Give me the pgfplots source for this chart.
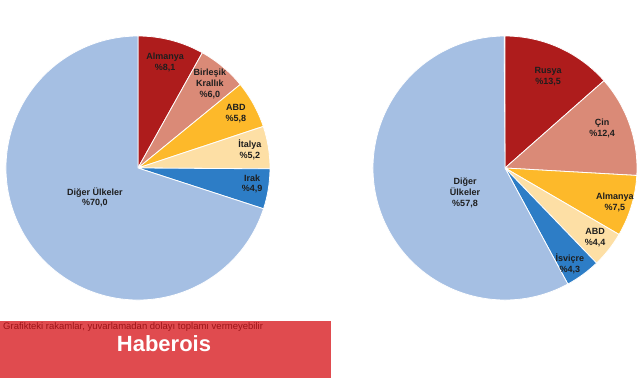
\documentclass[border=0pt]{standalone}
\usepackage{pgfplots}
\pgfplotsset{compat=1.18}
\usepackage{fontspec}
\setmainfont{Liberation Sans}
\definecolor{cA}{HTML}{AE1C1C}
\definecolor{cB}{HTML}{DA8A77}
\definecolor{cC}{HTML}{FDB92A}
\definecolor{cD}{HTML}{FDDFA5}
\definecolor{cE}{HTML}{2D7DC6}
\definecolor{cF}{HTML}{A5BFE3}
\definecolor{banner}{HTML}{E04B4F}
\definecolor{smalltxt}{HTML}{9E1418}
\definecolor{lbl}{HTML}{1E1E1E}
\newcommand{\R}{132pt}
\newcommand{\drawpie}[1]{%
  \pgfplotsextra{%
    \xdef\cur{90}%
    \foreach \v/\c in {#1} {%
      \pgfmathsetmacro\e{\cur-3.6*\v}%
      \fill[\c,draw=white,line width=0.8pt,line join=round] (axis cs:0,0) -- ++(\cur:\R) arc[start angle=\cur, end angle=\e, radius=\R] -- cycle;
      \xdef\cur{\e}%
    }%
  }%
}
\pgfplotsset{piestyle/.style={
  width=264pt, height=264pt, scale only axis,
  xmin=-1, xmax=1, ymin=-1, ymax=1,
  axis lines=none, clip=false, anchor=center,
}}
\tikzset{lab/.style={font=\fontsize{9}{10.8}\selectfont\bfseries, text=lbl, align=center, inner sep=0pt}}
\begin{document}
\begin{tikzpicture}[x=1pt,y=1pt]
\path[use as bounding box] (0,0) rectangle (641,380);
\fill[banner] (0,2) rectangle (331,59);
\node[anchor=base west, inner sep=0pt, text=smalltxt, font=\fontsize{9.5}{11}\selectfont] at (3,50) {Grafikteki rakamlar, yuvarlamadan dolayı toplamı vermeyebilir};
\node[anchor=base, inner sep=0pt, text=white, font=\fontsize{22}{24}\selectfont\bfseries] at (164,28) {Haberois};
% left pie
\begin{axis}[piestyle, at={(138pt,212pt)}]
\addplot[draw=none] coordinates {(0,0)};
\drawpie{8.1/cA, 6.0/cB, 5.8/cC, 5.2/cD, 4.9/cE, 70.0/cF}
\node[lab] at (axis cs:0.205,0.80) {Almanya\\\%8,1};
\node[lab] at (axis cs:0.545,0.636) {Birleşik\\Krallık\\\%6,0};
\node[lab] at (axis cs:0.742,0.413) {ABD\\\%5,8};
\node[lab] at (axis cs:0.848,0.14) {İtalya\\\%5,2};
\node[lab] at (axis cs:0.864,-0.121) {Irak\\\%4,9};
\node[lab] at (axis cs:-0.326,-0.223) {Diğer Ülkeler\\\%70,0};
\end{axis}
% right pie
\begin{axis}[piestyle, at={(505pt,212pt)}]
\addplot[draw=none] coordinates {(0,0)};
\drawpie{13.5/cA, 12.4/cB, 7.5/cC, 4.4/cD, 4.3/cE, 57.8/cF}
\node[lab] at (axis cs:0.326,0.693) {Rusya\\\%13,5};
\node[lab] at (axis cs:0.735,0.30) {Çin\\\%12,4};
\node[lab] at (axis cs:0.833,-0.261) {Almanya\\\%7,5};
\node[lab] at (axis cs:0.682,-0.53) {ABD\\\%4,4};
\node[lab] at (axis cs:0.492,-0.727) {İsviçre\\\%4,3};
\node[lab] at (axis cs:-0.303,-0.19) {Diğer\\Ülkeler\\\%57,8};
\end{axis}
\end{tikzpicture}
\end{document}
